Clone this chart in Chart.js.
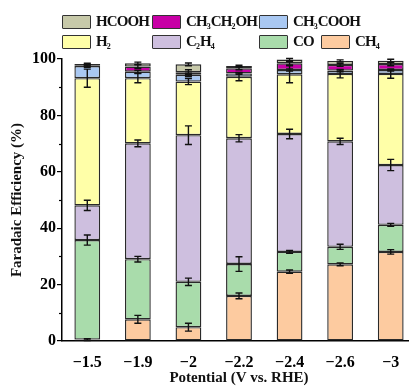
<!DOCTYPE html>
<html>
<head>
<meta charset="utf-8">
<script src="https://cdn.jsdelivr.net/npm/chart.js@4"></script>
<style>
  html, body { margin: 0; padding: 0; background: #fff; overflow: hidden; }
  #wrap { position: relative; width: 409px; height: 387px; overflow: hidden; }
  #chart { position: absolute; left: 0; top: 0; }
  .lg { position: absolute; height: 16px; font: bold 15px "Liberation Serif", serif; color: #111; white-space: nowrap; }
  .lg .box { position: absolute; left: 0; top: 0; width: 27px; height: 12px; border: 1.5px solid #333; border-radius: 1px; }
  .lg .txt { position: absolute; left: 34px; top: -2px; line-height: 17px; letter-spacing: -0.9px; }
  .lg sub { font-size: 8px; vertical-align: -3px; letter-spacing: 0; }
</style>
</head>
<body>
<div id="wrap">
  <canvas id="chart" width="416" height="387"></canvas>
</div>
<script>
const potentials = ['\u22121.5', '\u22121.9', '\u22122', '\u22122.2', '\u22122.4', '\u22122.6', '\u22123'];

// stacked bottom -> top
const ch4     = [0.5, 7.7, 4.9, 16.0, 24.6, 27.2, 31.6];
const co      = [35.3, 21.3, 16.1, 11.3, 7.0, 6.2, 9.6];
const c2h4    = [12.3, 41.1, 52.0, 44.6, 41.8, 37.4, 21.2];
const h2      = [45.1, 23.1, 19.0, 21.8, 21.2, 23.9, 32.3];
const ch3cooh = [4.3, 2.3, 2.4, 1.2, 1.5, 1.2, 1.4];
const etoh    = [0.3, 1.8, 0.9, 1.8, 2.4, 2.0, 2.1];
const hcooh   = [0.4, 1.2, 2.8, 0.8, 1.3, 1.4, 1.2];

// error bars (+/-), same order
const ch4Err     = [0.3, 1.4, 1.4, 1.0, 0.6, 0.5, 0.8];
const coErr      = [1.8, 1.0, 1.3, 2.6, 0.5, 0.9, 0.5];
const c2h4Err    = [1.8, 1.2, 3.3, 1.3, 1.7, 1.1, 2.0];
const h2Err      = [3.2, 1.6, 1.1, 1.4, 3.0, 1.4, 1.5];
const ch3coohErr = [0.4, 0.5, 0.6, 0.3, 0.4, 0.4, 0.4];
const etohErr    = [0.3, 0.6, 0.9, 0.5, 0.6, 0.5, 0.6];
const hcoohErr   = [0.3, 0.4, 0.5, 0.3, 0.4, 0.4, 0.5];

const yTicks = [0, 20, 40, 60, 80, 100];

const series = [
  { name: 'CH4',      data: ch4,     err: ch4Err,     color: '#fdcba0' },
  { name: 'CO',       data: co,      err: coErr,      color: '#a9dcab' },
  { name: 'C2H4',     data: c2h4,    err: c2h4Err,    color: '#cebfdf' },
  { name: 'H2',       data: h2,      err: h2Err,      color: '#ffffa8' },
  { name: 'CH3COOH',  data: ch3cooh, err: ch3coohErr, color: '#a9c8f2' },
  { name: 'CH3CH2OH', data: etoh,    err: etohErr,    color: '#c800a6' },
  { name: 'HCOOH',    data: hcooh,   err: hcoohErr,   color: '#c7c9a9' }
];

// legend, laid out like the original (2 rows)
const legendSpots = [
  ['HCOOH', 62, 15], ['CH3CH2OH', 152, 15], ['CH3COOH', 259, 15],
  ['H2', 62, 35], ['C2H4', 152, 35], ['CO', 259, 35], ['CH4', 321, 35]
];
const wrap = document.getElementById('wrap');
legendSpots.forEach(([name, x, y]) => {
  const s = series.find(d => d.name === name);
  const el = document.createElement('div');
  el.className = 'lg';
  el.style.left = x + 'px';
  el.style.top = y + 'px';
  el.innerHTML = '<span class="box" style="background:' + s.color + '"></span>' +
    '<span class="txt">' + name.replace(/(\d)/g, '<sub>$1</sub>') + '</span>';
  wrap.appendChild(el);
});

const errorBars = {
  id: 'errorBars',
  afterDatasetsDraw(chart) {
    const { ctx, scales: { x, y } } = chart;
    ctx.save();
    ctx.strokeStyle = '#111';
    ctx.lineWidth = 1.4;
    const cum = potentials.map(() => 0);
    chart.data.datasets.forEach((ds, i) => {
      ds.data.forEach((v, j) => {
        cum[j] += v;
        const e = series[i].err[j];
        const cx = x.getPixelForValue(j);
        const yt = y.getPixelForValue(cum[j] + e);
        const yb = y.getPixelForValue(cum[j] - e);
        ctx.beginPath();
        ctx.moveTo(cx, yt); ctx.lineTo(cx, yb);
        ctx.moveTo(cx - 3.5, yt); ctx.lineTo(cx + 3.5, yt);
        ctx.moveTo(cx - 3.5, yb); ctx.lineTo(cx + 3.5, yb);
        ctx.stroke();
      });
    });
    // minor ticks on the y axis
    ctx.strokeStyle = '#000';
    ctx.lineWidth = 1.2;
    for (let v = 10; v < 100; v += 20) {
      const py = Math.round(y.getPixelForValue(v)) + 0.5;
      ctx.beginPath();
      ctx.moveTo(x.left - 3, py); ctx.lineTo(x.left, py);
      ctx.stroke();
    }
    ctx.restore();
  }
};

new Chart(document.getElementById('chart'), {
  type: 'bar',
  data: {
    labels: potentials,
    datasets: series.map(s => ({
      label: s.name,
      data: s.data,
      backgroundColor: s.color,
      borderColor: '#2a2a2a',
      borderWidth: 1.4,
      borderSkipped: false,
      categoryPercentage: 1,
      barPercentage: 0.51
    }))
  },
  options: {
    responsive: false,
    animation: false,
    layout: { padding: { top: 59, right: 0, left: 0, bottom: 0 } },
    plugins: { legend: { display: false }, tooltip: { enabled: false } },
    scales: {
      x: {
        stacked: true,
        grid: { display: false },
        border: { display: true, color: '#000', width: 1.5 },
        ticks: { color: '#000', padding: 4, font: { family: 'Liberation Serif', size: 16, weight: 'bold' } },
        title: {
          display: true,
          text: 'Potential (V vs. RHE)',
          color: '#111',
          padding: { top: 6, bottom: 0 },
          font: { family: 'Liberation Serif', size: 15, weight: 'bold' }
        },
        afterFit: (scale) => { scale.height = 46; }
      },
      y: {
        stacked: true,
        min: 0,
        max: 100,
        afterBuildTicks: (scale) => { scale.ticks = yTicks.map(v => ({ value: v })); },
        grid: { drawOnChartArea: false, drawTicks: true, tickLength: 5, color: '#000', lineWidth: 1.2 },
        border: { display: true, color: '#000', width: 1.5 },
        ticks: { color: '#000', padding: 1, font: { family: 'Liberation Serif', size: 16, weight: 'bold' } },
        title: {
          display: true,
          text: 'Faradaic Efficiency (%)',
          color: '#111',
          padding: { top: 8, bottom: 0 },
          font: { family: 'Liberation Serif', size: 15, weight: 'bold' }
        },
        afterFit: (scale) => { scale.width = 62; }
      }
    }
  },
  plugins: [errorBars]
});
</script>
</body>
</html>
